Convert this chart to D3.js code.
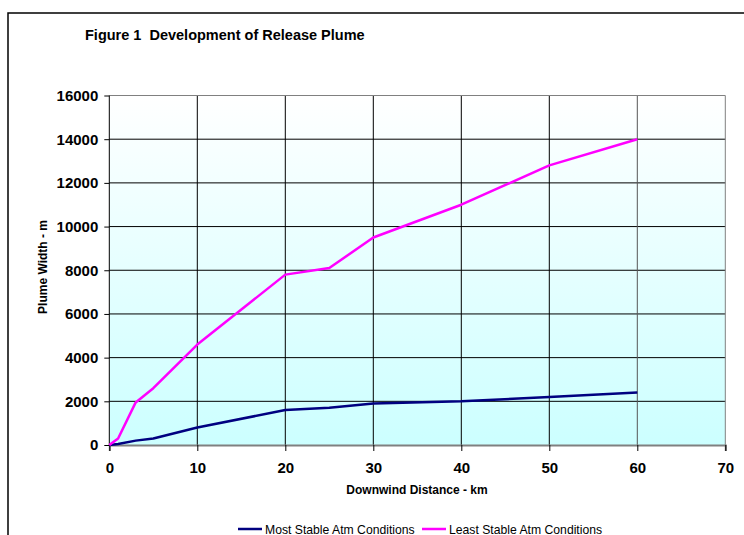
<!DOCTYPE html>
<html><head><meta charset="utf-8">
<script src="https://cdn.jsdelivr.net/npm/d3@7"></script>
<style>body{margin:0;background:#fff}svg{display:block}text{font-family:"Liberation Sans",Arial,sans-serif;white-space:pre}</style>
</head><body><svg id="c" width="744" height="535"></svg>
<script>
const distances = [0, 1, 3, 5, 10, 20, 25, 30, 40, 50, 60];
const mostStable = [0, 50, 200, 300, 800, 1600, 1700, 1900, 2000, 2200, 2400];
const leastStable = [0, 300, 1950, 2600, 4600, 7800, 8100, 9500, 11000, 12800, 14000];
const seriesNames = ["Most Stable Atm Conditions", "Least Stable Atm Conditions"];
const seriesColors = ["#000080", "#ff00ff"];
const xTicks = [0, 10, 20, 30, 40, 50, 60, 70];
const yTicks = [0, 2000, 4000, 6000, 8000, 10000, 12000, 14000, 16000];

const svg = d3.select("#c");
const L = 109.3, R = 725.3, T = 95.5, B = 445;
const x = d3.scaleLinear().domain([0, 70]).range([L, R]);
const y = d3.scaleLinear().domain([0, 16000]).range([B, T]);

svg.append("rect").attr("x", 8).attr("y", 13).attr("width", 800).attr("height", 600)
  .attr("fill", "none").attr("stroke", "#000").attr("stroke-width", 1.5);

const defs = svg.append("defs");
const g = defs.append("linearGradient").attr("id", "bg").attr("x1", 0).attr("y1", 0).attr("x2", 0).attr("y2", 1);
g.append("stop").attr("offset", 0).attr("stop-color", "#ffffff");
g.append("stop").attr("offset", 1).attr("stop-color", "#ccffff");
svg.append("rect").attr("x", L).attr("y", T).attr("width", R - L).attr("height", B - T).attr("fill", "url(#bg)");

svg.append("g").selectAll("line").data(yTicks.slice(1, -1)).join("line")
  .attr("x1", L).attr("x2", R).attr("y1", d => y(d)).attr("y2", d => y(d))
  .attr("stroke", "#000").attr("stroke-width", 1);
svg.append("g").selectAll("line").data(xTicks.slice(1, -1)).join("line")
  .attr("y1", T).attr("y2", B).attr("x1", d => x(d)).attr("x2", d => x(d))
  .attr("stroke", d => d === 60 ? "#555" : "#000").attr("stroke-width", 1);
svg.append("path").attr("d", `M${L},${T}H${R}V${B}`).attr("fill", "none").attr("stroke", "#808080").attr("stroke-width", 1);

const xAxis = d3.axisBottom(x).tickValues(xTicks).tickSize(6).tickFormat(d3.format("d"));
const xa = svg.append("g").attr("transform", `translate(0,${B})`).call(xAxis);
xa.select(".domain").attr("stroke", "#808080").attr("stroke-width", 2);
xa.selectAll(".tick line").attr("stroke", "#000");
xa.selectAll("text").attr("font-size", 15).attr("font-weight", "bold").attr("fill", "#000").attr("dy", null).attr("y", 28);

const yAxis = d3.axisLeft(y).tickValues(yTicks).tickSize(5).tickFormat(d3.format("d"));
const ya = svg.append("g").attr("transform", `translate(${L},0)`).call(yAxis);
ya.select(".domain").attr("stroke", "#000").attr("stroke-width", 1).attr("d", `M0,${T}V${B}`);
ya.selectAll("text").attr("font-size", 15).attr("font-weight", "bold").attr("fill", "#000").attr("x", -11);

const line = d3.line().x((d, i) => x(distances[i])).y(d => y(d));
[mostStable, leastStable].forEach((s, k) => {
  svg.append("path").datum(s).attr("d", line).attr("fill", "none")
    .attr("stroke", seriesColors[k]).attr("stroke-width", 2.5).attr("stroke-linejoin", "round");
});

svg.append("text").attr("x", 85).attr("y", 40).attr("font-size", 14.5).attr("font-weight", "bold")
  .text("Figure 1  Development of Release Plume");
svg.append("text").attr("x", 417).attr("y", 494).attr("text-anchor", "middle").attr("font-size", 12).attr("font-weight", "bold")
  .text("Downwind Distance - km");
svg.append("text").attr("transform", "translate(47,267) rotate(-90)").attr("text-anchor", "middle")
  .attr("font-size", 12).attr("font-weight", "bold").text("Plume Width - m");

const legX = [238, 422];
seriesNames.forEach((n, k) => {
  svg.append("line").attr("x1", legX[k]).attr("x2", legX[k] + 24).attr("y1", 529).attr("y2", 529)
    .attr("stroke", seriesColors[k]).attr("stroke-width", 2.5);
  svg.append("text").attr("x", legX[k] + 27).attr("y", 533.5).attr("font-size", 12.2).text(n);
});
</script></body></html>
